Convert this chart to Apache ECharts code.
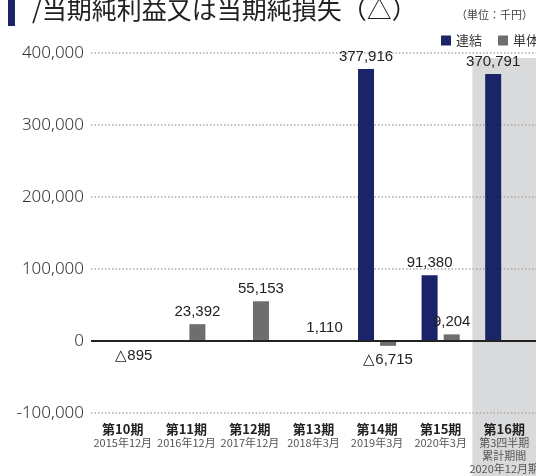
<!DOCTYPE html>
<html>
<head>
<meta charset="utf-8">
<script src="https://cdn.jsdelivr.net/npm/echarts@6/dist/echarts.min.js"></script>
<style>
  html, body { margin: 0; padding: 0; background: #fff; }
  #main { width: 536px; height: 476px; }
</style>
</head>
<body>
<div id="main"></div>
<script>
// 期
const categories = ['第10期', '第11期', '第12期', '第13期', '第14期', '第15期', '第16期']
const periods = [
  '2015年12月',
  '2016年12月',
  '2017年12月',
  '2018年3月',
  '2019年3月',
  '2020年3月',
  '第3四半期\n累計期間\n2020年12月期',
]
// 連結 / 単体 (千円)
const consolidated = [null, null, null, null, 377916, 91380, 370791]
const standalone = [-895, 23392, 55153, 1110, -6715, 9204, null]

const NAVY = '#1b2469'
const GRAY = '#6d6e70'
const numFont = '"Liberation Sans Narrow", "Liberation Sans", sans-serif'
const jpFont = '"Noto Sans CJK JP", sans-serif'

function fmt(v) {
  return Math.abs(v).toString().replace(/\B(?=(\d{3})+(?!\d))/g, ',')
}

// 負の値は△付きでバーの下に表示
function toData(arr) {
  return arr.map((v) => {
    if (v == null) return null
    return {
      value: v,
      label: v < 0 ? { position: 'bottom', distance: 7 } : { position: 'top' },
    }
  })
}

const barLabel = {
  show: true,
  distance: 5,
  color: '#222',
  fontFamily: numFont,
  fontSize: 15,
  formatter: (p) => (p.value < 0 ? '△' : '') + fmt(p.value),
}

const myChart = echarts.init(document.getElementById('main'))
const option = {
  animation: false,
  textStyle: { fontFamily: jpFont },
  grid: { left: 91, right: 0, top: 53, bottom: 63, outerBoundsMode: 'none' },
  legend: {
    left: 436,
    top: 29,
    width: 200,
    orient: 'horizontal',
    icon: 'rect',
    itemWidth: 10,
    itemHeight: 10,
    itemGap: 16,
    textStyle: { fontSize: 13, color: '#333', fontFamily: jpFont },
    data: ['連結', '単体'],
  },
  xAxis: {
    type: 'category',
    data: categories,
    axisLine: { show: false, onZero: false },
    axisTick: { show: false },
    axisLabel: {
      interval: 0,
      margin: 10,
      formatter: (val, i) => '{a|' + val + '}\n' +
        periods[i].split('\n').map((s) => '{b|' + s + '}').join('\n'),
      rich: {
        a: { fontSize: 13, fontWeight: 'bold', color: '#222', lineHeight: 13, fontFamily: jpFont },
        b: { fontSize: 11, color: '#555', lineHeight: 13, fontFamily: jpFont },
      },
    },
  },
  yAxis: {
    type: 'value',
    min: -100000,
    max: 400000,
    interval: 100000,
    axisLine: { show: false },
    axisTick: { show: false },
    axisLabel: {
      margin: 7,
      fontSize: 17,
      color: '#333',
      fontFamily: '"Noto Sans", sans-serif',
      fontWeight: 300,
      formatter: (v) => (v < 0 ? '-' : '') + fmt(v),
    },
    splitLine: {
      lineStyle: { color: '#aaa', width: 1.5, type: [1.5, 2] },
    },
  },
  series: [
    {
      name: '連結',
      type: 'bar',
      barWidth: 16,
      barGap: '38%',
      itemStyle: { color: NAVY },
      label: barLabel,
      data: toData(consolidated),
      markLine: {
        silent: true,
        symbol: 'none',
        label: { show: false },
        lineStyle: { color: '#222', width: 2, type: 'solid' },
        data: [{ yAxis: 0 }],
      },
    },
    {
      name: '単体',
      type: 'bar',
      barWidth: 16,
      itemStyle: { color: GRAY },
      label: barLabel,
      data: toData(standalone),
    },
  ],
}
myChart.setOption(option)

// 第16期の背景と見出し
const band = (536 - 91) / categories.length
const cx = myChart.convertToPixel({ xAxisIndex: 0 }, categories.length - 1)
myChart.setOption({
  graphic: [
    {
      type: 'rect',
      z: -10,
      shape: { x: cx - band / 2, y: 58, width: band + 2, height: 476 - 58 },
      style: { fill: '#d8dadc' },
    },
    {
      type: 'rect',
      shape: { x: 8, y: 0, width: 7, height: 26 },
      style: { fill: NAVY },
    },
    {
      type: 'text',
      x: 32,
      y: 9,
      style: {
        text: '/当期純利益又は当期純損失（△）',
        fontSize: 25,
        fontFamily: jpFont,
        fill: '#222',
        verticalAlign: 'middle',
      },
    },
    {
      type: 'text',
      x: 533,
      y: 15,
      style: {
        text: '（単位：千円）',
        fontSize: 11,
        fontFamily: jpFont,
        fill: '#444',
        align: 'right',
        verticalAlign: 'middle',
      },
    },
  ],
})
</script>
</body>
</html>
